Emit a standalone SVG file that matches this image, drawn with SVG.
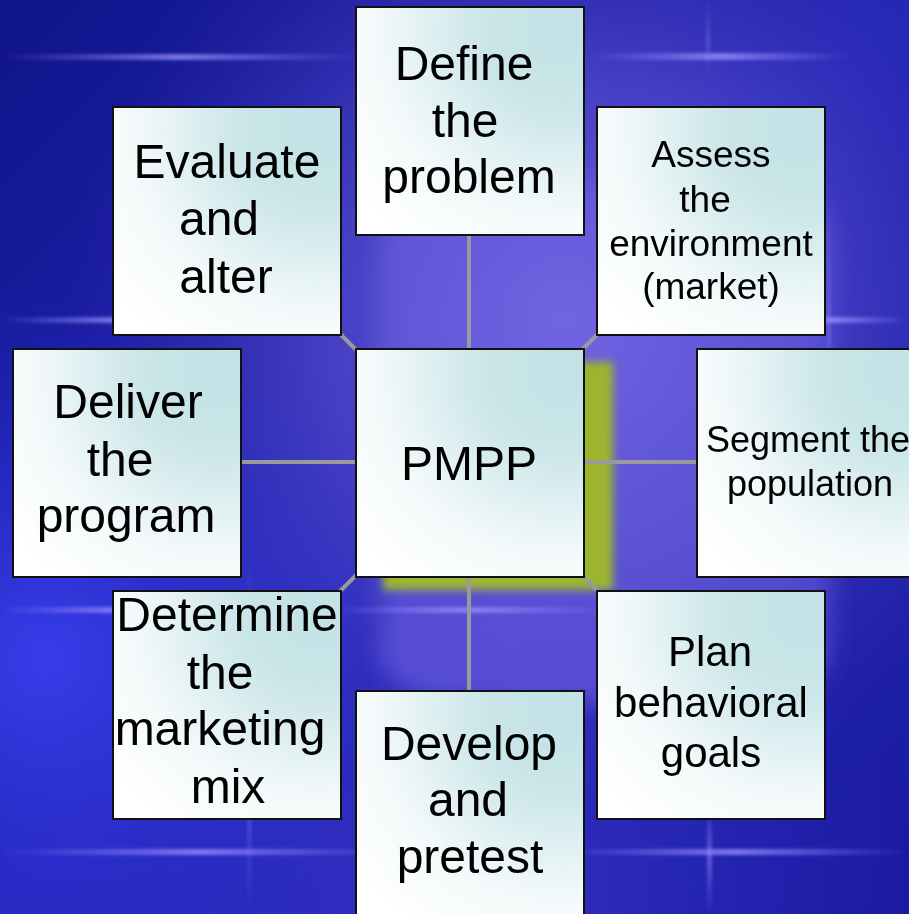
<svg xmlns="http://www.w3.org/2000/svg" width="909" height="914" viewBox="0 0 909 914">
<defs>
<linearGradient id="bgBase" x1="0" y1="0" x2="1" y2="1">
<stop offset="0" stop-color="#10148a"/>
<stop offset="0.5" stop-color="#2326b8"/>
<stop offset="1" stop-color="#1a1aa0"/>
</linearGradient>
<radialGradient id="glowPurple" cx="0.62" cy="0.35" r="0.55">
<stop offset="0" stop-color="#7a6ce6" stop-opacity="0.95"/>
<stop offset="0.5" stop-color="#5a4fd0" stop-opacity="0.6"/>
<stop offset="1" stop-color="#3a30b0" stop-opacity="0"/>
</radialGradient>
<radialGradient id="glowLeft" cx="0.05" cy="0.72" r="0.4">
<stop offset="0" stop-color="#3c40f0" stop-opacity="0.9"/>
<stop offset="1" stop-color="#2a2ed8" stop-opacity="0"/>
</radialGradient>
<radialGradient id="glowBottom" cx="0.5" cy="1" r="0.5">
<stop offset="0" stop-color="#3a34c8" stop-opacity="0.8"/>
<stop offset="1" stop-color="#2e30c8" stop-opacity="0"/>
</radialGradient>
<radialGradient id="boxFill" cx="0.9" cy="0.1" r="1.15">
<stop offset="0" stop-color="#c2e2e5"/>
<stop offset="0.3" stop-color="#cbe6e9"/>
<stop offset="0.7" stop-color="#f3f9fa"/>
<stop offset="1" stop-color="#ffffff"/>
</radialGradient>
<linearGradient id="hStreak" x1="0" y1="0" x2="1" y2="0">
<stop offset="0" stop-color="#8a80ff" stop-opacity="0"/>
<stop offset="0.5" stop-color="#9a90ff" stop-opacity="0.75"/>
<stop offset="1" stop-color="#8a80ff" stop-opacity="0"/>
</linearGradient>
<linearGradient id="vStreak" x1="0" y1="0" x2="0" y2="1">
<stop offset="0" stop-color="#8a80ff" stop-opacity="0"/>
<stop offset="0.5" stop-color="#9a90ff" stop-opacity="0.5"/>
<stop offset="1" stop-color="#8a80ff" stop-opacity="0"/>
</linearGradient>
<filter id="blur12" x="-20%" y="-20%" width="140%" height="140%"><feGaussianBlur stdDeviation="12"/></filter>
<filter id="blur4" x="-20%" y="-20%" width="140%" height="140%"><feGaussianBlur stdDeviation="4"/></filter>
<filter id="blur2" x="-50%" y="-50%" width="200%" height="200%"><feGaussianBlur stdDeviation="1.5"/></filter>
</defs>
<style>
.box{fill:url(#boxFill);stroke:#111111;stroke-width:2}
.lbl{font-family:"Liberation Sans",Arial,sans-serif;fill:#000000;text-anchor:middle}
.big{font-size:48px}
.mid{font-size:42px}
.sm{font-size:37px}
.seg{font-size:36px}
.conn{stroke:#9a9a9a;stroke-width:4;fill:none}
</style>

<g id="background">
<rect x="0" y="0" width="909" height="914" fill="url(#bgBase)"/>
<rect x="0" y="0" width="909" height="914" fill="url(#glowLeft)"/>
<rect x="0" y="0" width="909" height="914" fill="url(#glowBottom)"/>
<rect x="0" y="0" width="909" height="914" fill="url(#glowPurple)"/>
<rect x="380" y="180" width="450" height="520" rx="60" fill="#6e62e2" opacity="0.55" filter="url(#blur12)"/>
<ellipse cx="600" cy="655" rx="220" ry="45" fill="#5a50d8" opacity="0.6" filter="url(#blur12)"/>
<rect x="383" y="362" width="230" height="228" fill="#9db52e" filter="url(#blur4)"/>
<g filter="url(#blur2)">
<rect x="0" y="54" width="360" height="6" fill="url(#hStreak)"/>
<rect x="590" y="53" width="260" height="7" fill="url(#hStreak)"/>
<rect x="0" y="317" width="240" height="6" fill="url(#hStreak)"/>
<rect x="760" y="317" width="149" height="6" fill="url(#hStreak)"/>
<rect x="0" y="607" width="240" height="6" fill="url(#hStreak)"/>
<rect x="330" y="607" width="280" height="6" fill="url(#hStreak)"/>
<rect x="0" y="849" width="400" height="6" fill="url(#hStreak)"/>
<rect x="560" y="849" width="349" height="6" fill="url(#hStreak)"/>
<rect x="247" y="560" width="5" height="354" fill="url(#vStreak)"/>
<rect x="707" y="800" width="5" height="114" fill="url(#vStreak)"/>
<rect x="706" y="0" width="4" height="80" fill="url(#vStreak)" opacity="0.6"/>
<rect x="827" y="200" width="4" height="250" fill="url(#vStreak)" opacity="0.6"/>
</g>
</g>

<g id="connectors">
<line class="conn" x1="469" y1="235" x2="469" y2="691"/>
<line class="conn" x1="241" y1="462" x2="697" y2="462"/>
<line class="conn" x1="227" y1="221" x2="711" y2="704"/>
<line class="conn" x1="711" y1="221" x2="227" y2="704"/>
</g>

<g id="node-define">
<rect class="box" x="356" y="7" width="228" height="228"/>
<text class="lbl big" x="464" y="80">Define</text>
<text class="lbl big" x="465" y="137">the</text>
<text class="lbl big" x="469" y="193">problem</text>
</g>

<g id="node-evaluate">
<rect class="box" x="113" y="107" width="228" height="228"/>
<text class="lbl big" x="227" y="178">Evaluate</text>
<text class="lbl big" x="219" y="235">and</text>
<text class="lbl big" x="226" y="293">alter</text>
</g>

<g id="node-assess">
<rect class="box" x="597" y="107" width="228" height="228"/>
<text class="lbl sm" x="711" y="167">Assess</text>
<text class="lbl sm" x="705" y="212">the</text>
<text class="lbl sm" x="711" y="256">environment</text>
<text class="lbl sm" x="711" y="299">(market)</text>
</g>

<g id="node-deliver">
<rect class="box" x="13" y="349" width="228" height="228"/>
<text class="lbl big" x="128" y="418">Deliver</text>
<text class="lbl big" x="120" y="476">the</text>
<text class="lbl big" x="126" y="532">program</text>
</g>

<g id="node-pmpp">
<rect class="box" x="356" y="349" width="228" height="228"/>
<text class="lbl big" x="469" y="480">PMPP</text>
</g>

<g id="node-segment">
<rect class="box" x="697" y="349" width="228" height="228"/>
<text class="lbl seg" x="808" y="452">Segment the</text>
<text class="lbl seg" x="810" y="496">population</text>
</g>

<g id="node-determine">
<rect class="box" x="113" y="591" width="228" height="228"/>
<text class="lbl big" x="227" y="631">Determine</text>
<text class="lbl big" x="220" y="689">the</text>
<text class="lbl big" x="220" y="745">marketing</text>
<text class="lbl big" x="228" y="803">mix</text>
</g>

<g id="node-plan">
<rect class="box" x="597" y="591" width="228" height="228"/>
<text class="lbl mid" x="710" y="666">Plan</text>
<text class="lbl mid" x="711" y="717">behavioral</text>
<text class="lbl mid" x="711" y="767">goals</text>
</g>

<g id="node-develop">
<rect class="box" x="356" y="691" width="228" height="228"/>
<text class="lbl big" x="469" y="760">Develop</text>
<text class="lbl big" x="468" y="816">and</text>
<text class="lbl big" x="470" y="873">pretest</text>
</g>
</svg>
